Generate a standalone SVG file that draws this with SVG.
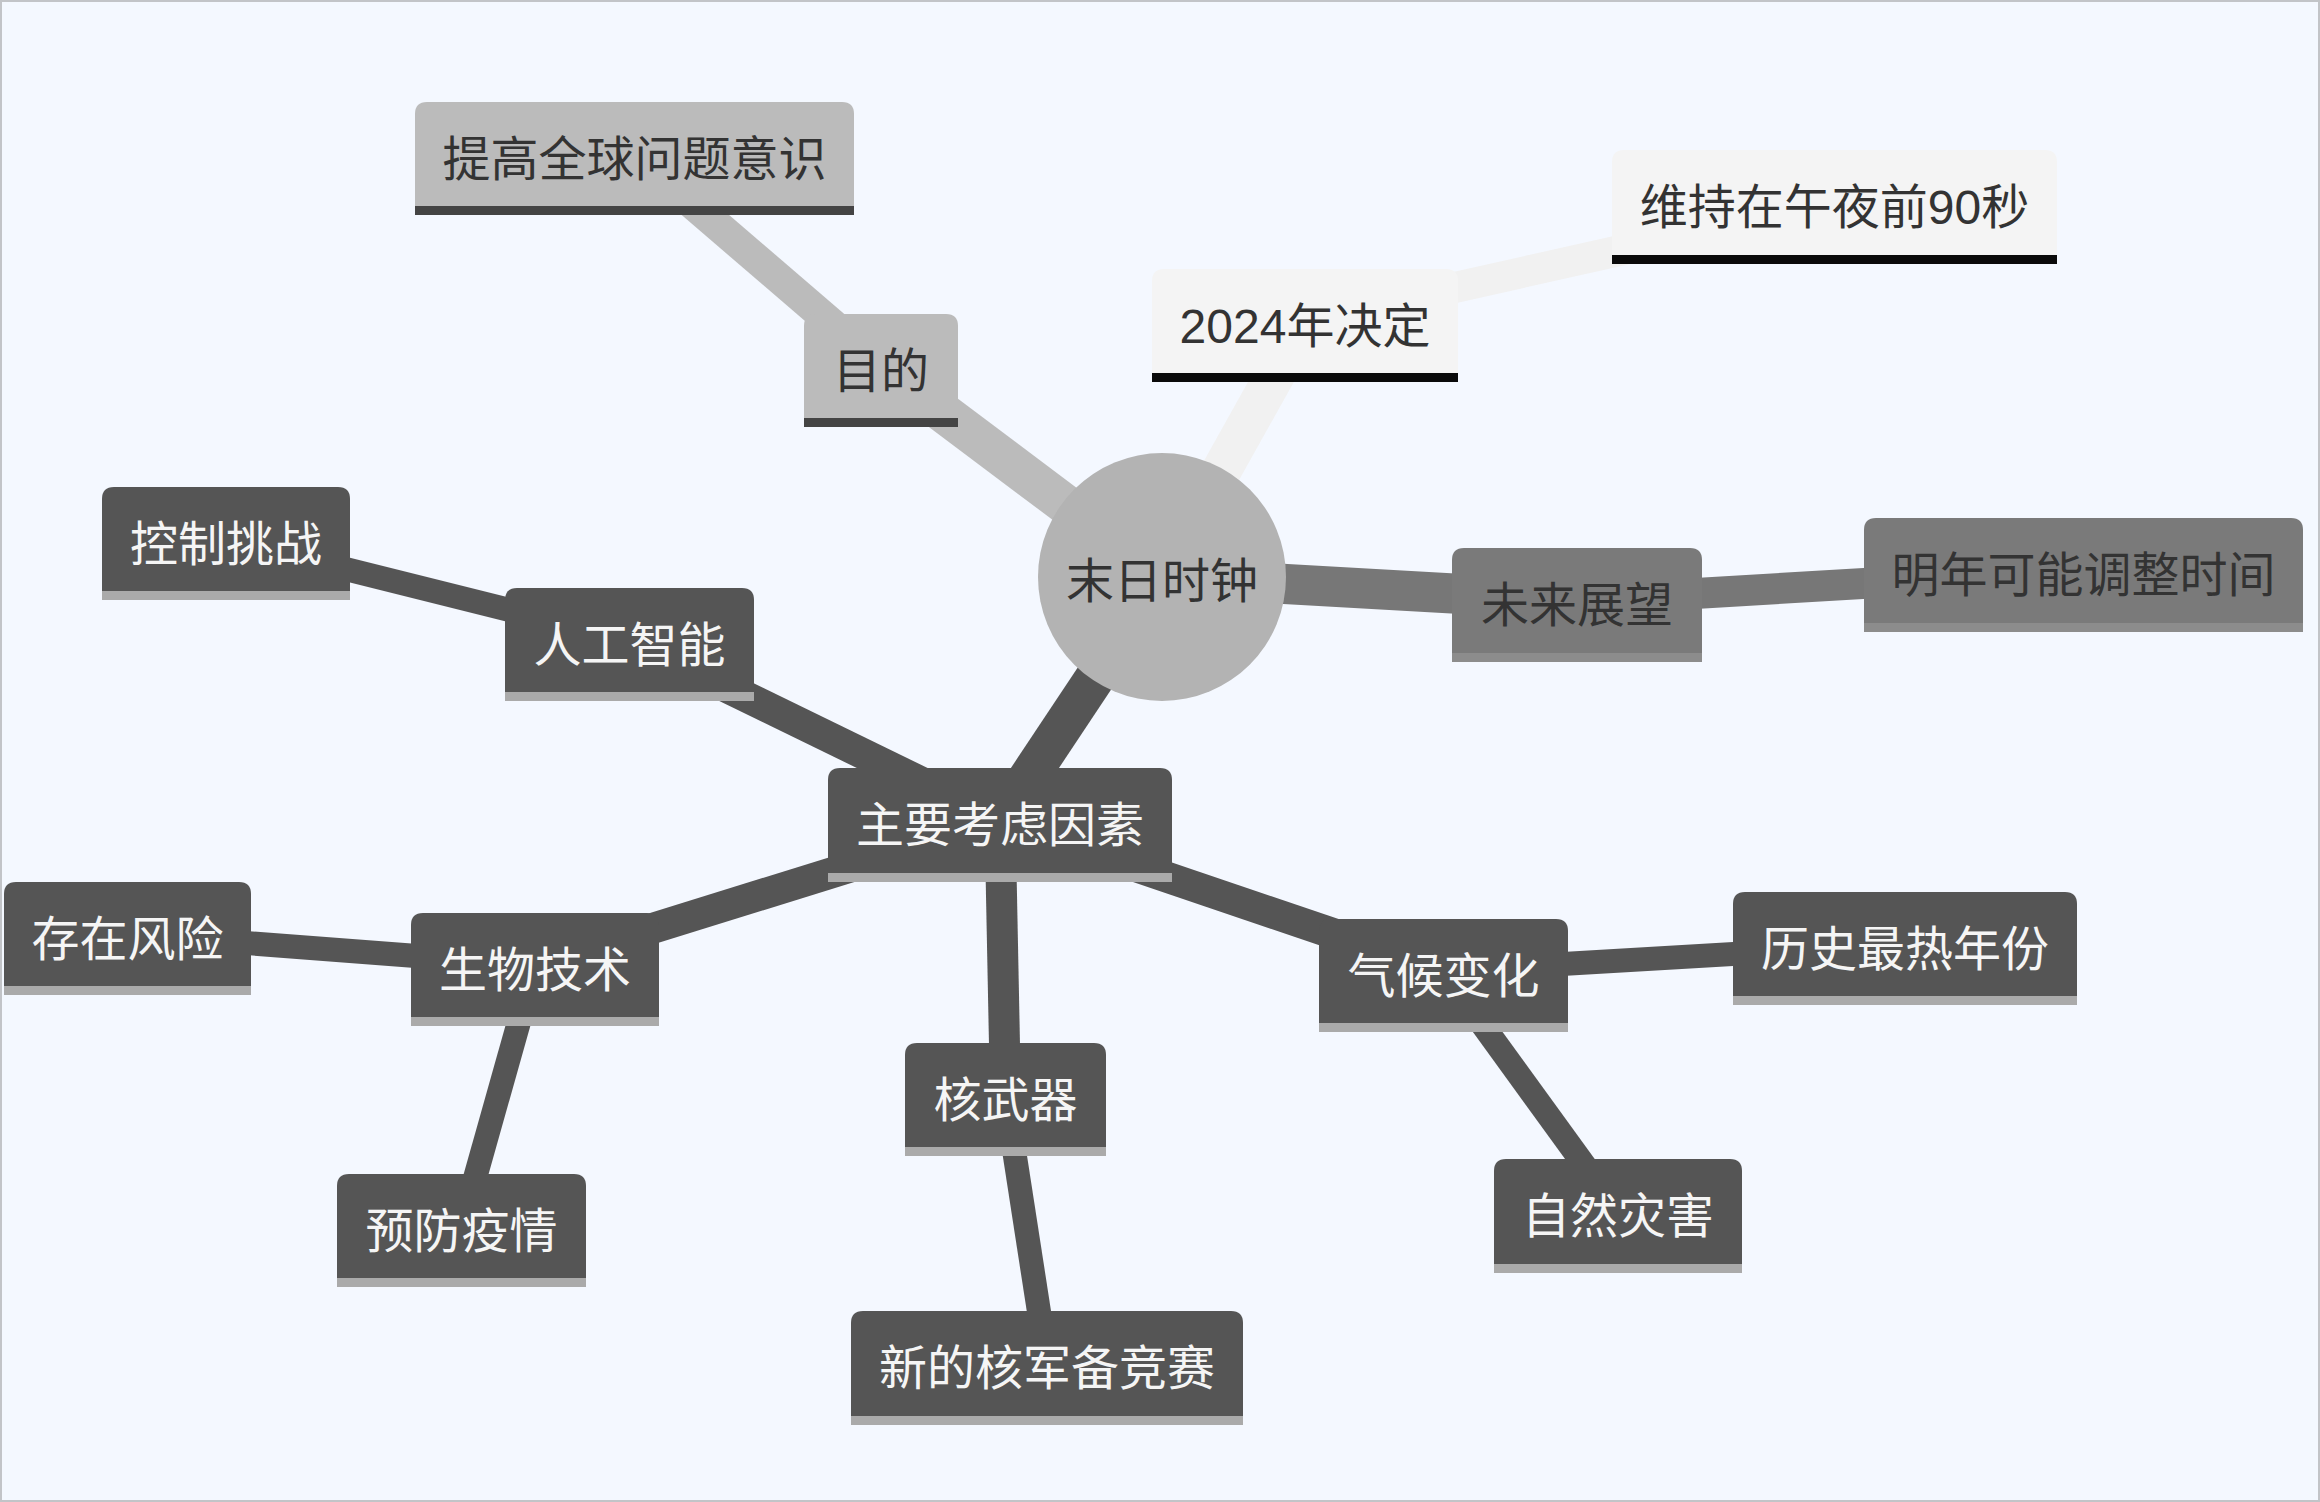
<svg xmlns="http://www.w3.org/2000/svg" width="2320" height="1502" viewBox="0 0 2320 1502">
<style>
text{font-family:"Liberation Sans","Noto Sans CJK SC",sans-serif;font-size:48px;text-anchor:middle;dominant-baseline:central}
.t-dark{fill:#333333}
.t-light{fill:#f5f5f5}
.f1{fill:#bbbbbb}.b1{fill:#444444}
.f2{fill:#f4f4f4}.b2{fill:#0a0a0a}
.f3{fill:#7a7a7a}.b3{fill:#8c8c8c}
.f4{fill:#555555}.b4{fill:#aaaaaa}
.c1{stroke:#bbbbbb}.c2{stroke:#f1f1f1}.c3{stroke:#777777}.c4{stroke:#555555}
.l1{stroke-width:40}.l2{stroke-width:31}.l3{stroke-width:24}
line{stroke-linecap:butt;fill:none}
</style>
<rect x="1" y="1" width="2318" height="1500" fill="#f4f8ff" stroke="#c2c4c8" stroke-width="2"/>
<g id="connectors">
<line class="c1 l1" x1="1162" y1="577" x2="881" y2="366"/>
<line class="c1 l2" x1="881" y1="366" x2="634.5" y2="154"/>
<line class="c2 l1" x1="1162" y1="577" x2="1305" y2="321"/>
<line class="c2 l2" x1="1305" y1="321" x2="1834.5" y2="202.5"/>
<line class="c3 l1" x1="1162" y1="577" x2="1577" y2="600.5"/>
<line class="c3 l2" x1="1577" y1="600.5" x2="2083.5" y2="570.5"/>
<line class="c4 l1" x1="1162" y1="577" x2="1000" y2="820.5"/>
<line class="c4 l2" x1="1000" y1="820.5" x2="629.5" y2="640"/>
<line class="c4 l3" x1="629.5" y1="640" x2="226" y2="539"/>
<line class="c4 l2" x1="1000" y1="820.5" x2="535" y2="965"/>
<line class="c4 l3" x1="535" y1="965" x2="127.5" y2="934"/>
<line class="c4 l3" x1="535" y1="965" x2="461.5" y2="1226"/>
<line class="c4 l2" x1="1000" y1="820.5" x2="1005.5" y2="1095"/>
<line class="c4 l3" x1="1005.5" y1="1095" x2="1047" y2="1363.5"/>
<line class="c4 l2" x1="1000" y1="820.5" x2="1443.5" y2="971"/>
<line class="c4 l3" x1="1443.5" y1="971" x2="1905" y2="944"/>
<line class="c4 l3" x1="1443.5" y1="971" x2="1618" y2="1211.5"/>
</g>
<g id="root">
<circle cx="1162" cy="577" r="124" fill="#b3b3b3"/>
<text class="t-dark" x="1162" y="581">末日时钟</text>
</g>
<g id="n-mudi">
<path class="f1" d="M804,418V326Q804,314 816,314H946Q958,314 958,326V418Z"/>
<rect class="b1" x="804" y="418" width="154" height="9"/>
<text class="t-dark" x="881" y="371">目的</text>
</g>
<g id="n-tigao">
<path class="f1" d="M415,206V114Q415,102 427,102H842Q854,102 854,114V206Z"/>
<rect class="b1" x="415" y="206" width="439" height="9"/>
<text class="t-dark" x="634.5" y="159">提高全球问题意识</text>
</g>
<g id="n-2024">
<path class="f2" d="M1152,373V281Q1152,269 1164,269H1446Q1458,269 1458,281V373Z"/>
<rect class="b2" x="1152" y="373" width="306" height="9"/>
<text class="t-dark" x="1305" y="326">2024年决定</text>
</g>
<g id="n-weichi">
<path class="f2" d="M1612,255V162Q1612,150 1624,150H2045Q2057,150 2057,162V255Z"/>
<rect class="b2" x="1612" y="255" width="445" height="9"/>
<text class="t-dark" x="1834.5" y="207">维持在午夜前90秒</text>
</g>
<g id="n-weilai">
<path class="f3" d="M1452,653V560Q1452,548 1464,548H1690Q1702,548 1702,560V653Z"/>
<rect class="b3" x="1452" y="653" width="250" height="9"/>
<text class="t-dark" x="1577" y="605">未来展望</text>
</g>
<g id="n-mingnian">
<path class="f3" d="M1864,623V530Q1864,518 1876,518H2291Q2303,518 2303,530V623Z"/>
<rect class="b3" x="1864" y="623" width="439" height="9"/>
<text class="t-dark" x="2083.5" y="575">明年可能调整时间</text>
</g>
<g id="n-zhuyao">
<path class="f4" d="M828,873V780Q828,768 840,768H1160Q1172,768 1172,780V873Z"/>
<rect class="b4" x="828" y="873" width="344" height="9"/>
<text class="t-light" x="1000" y="825">主要考虑因素</text>
</g>
<g id="n-rengong">
<path class="f4" d="M505,692V600Q505,588 517,588H742Q754,588 754,600V692Z"/>
<rect class="b4" x="505" y="692" width="249" height="9"/>
<text class="t-light" x="629.5" y="645">人工智能</text>
</g>
<g id="n-kongzhi">
<path class="f4" d="M102,591V499Q102,487 114,487H338Q350,487 350,499V591Z"/>
<rect class="b4" x="102" y="591" width="248" height="9"/>
<text class="t-light" x="226" y="544">控制挑战</text>
</g>
<g id="n-cunzai">
<path class="f4" d="M4,986V894Q4,882 16,882H239Q251,882 251,894V986Z"/>
<rect class="b4" x="4" y="986" width="247" height="9"/>
<text class="t-light" x="127.5" y="939">存在风险</text>
</g>
<g id="n-shengwu">
<path class="f4" d="M411,1017V925Q411,913 423,913H647Q659,913 659,925V1017Z"/>
<rect class="b4" x="411" y="1017" width="248" height="9"/>
<text class="t-light" x="535" y="970">生物技术</text>
</g>
<g id="n-yufang">
<path class="f4" d="M337,1278V1186Q337,1174 349,1174H574Q586,1174 586,1186V1278Z"/>
<rect class="b4" x="337" y="1278" width="249" height="9"/>
<text class="t-light" x="461.5" y="1231">预防疫情</text>
</g>
<g id="n-hewuqi">
<path class="f4" d="M905,1147V1055Q905,1043 917,1043H1094Q1106,1043 1106,1055V1147Z"/>
<rect class="b4" x="905" y="1147" width="201" height="9"/>
<text class="t-light" x="1005.5" y="1100">核武器</text>
</g>
<g id="n-xinde">
<path class="f4" d="M851,1416V1323Q851,1311 863,1311H1231Q1243,1311 1243,1323V1416Z"/>
<rect class="b4" x="851" y="1416" width="392" height="9"/>
<text class="t-light" x="1047" y="1368">新的核军备竞赛</text>
</g>
<g id="n-qihou">
<path class="f4" d="M1319,1023V931Q1319,919 1331,919H1556Q1568,919 1568,931V1023Z"/>
<rect class="b4" x="1319" y="1023" width="249" height="9"/>
<text class="t-light" x="1443.5" y="976">气候变化</text>
</g>
<g id="n-lishi">
<path class="f4" d="M1733,996V904Q1733,892 1745,892H2065Q2077,892 2077,904V996Z"/>
<rect class="b4" x="1733" y="996" width="344" height="9"/>
<text class="t-light" x="1905" y="949">历史最热年份</text>
</g>
<g id="n-ziran">
<path class="f4" d="M1494,1264V1171Q1494,1159 1506,1159H1730Q1742,1159 1742,1171V1264Z"/>
<rect class="b4" x="1494" y="1264" width="248" height="9"/>
<text class="t-light" x="1618" y="1216">自然灾害</text>
</g>
</svg>
